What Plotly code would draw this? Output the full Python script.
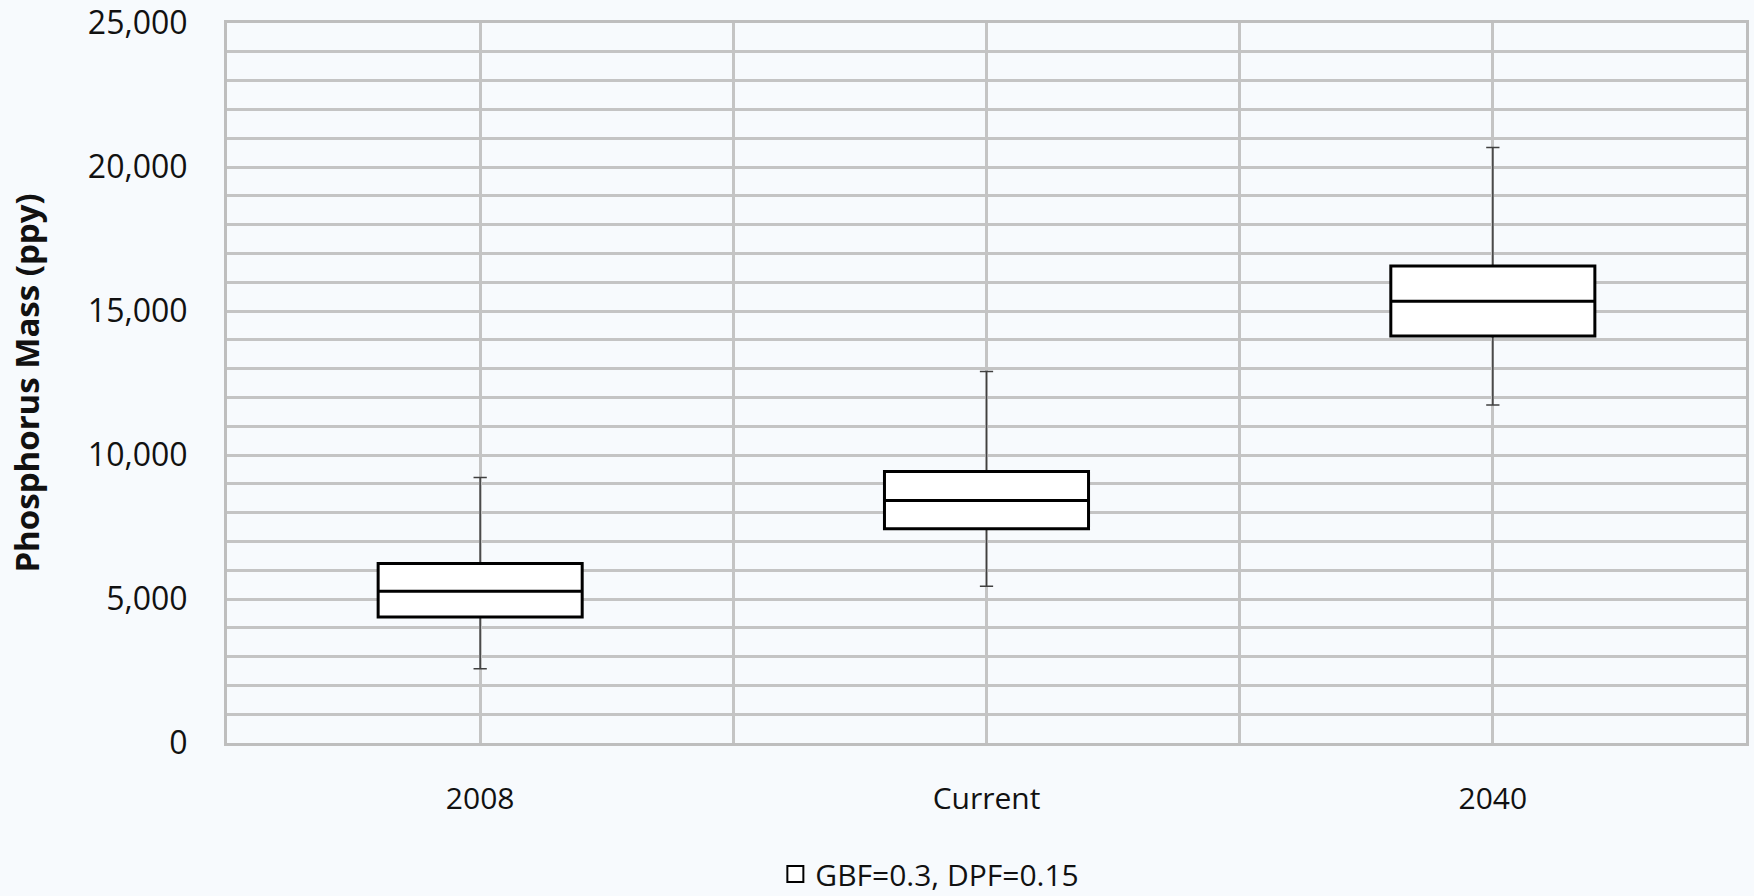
import plotly.graph_objects as go

categories = ["2008", "Current", "2040"]
lower_whisker = [2580, 5440, 11740]
q1 = [4375, 7440, 14130]
median = [5270, 8420, 15340]
q3 = [6230, 9430, 16560]
upper_whisker = [9215, 12900, 20680]
series_name = "GBF=0.3, DPF=0.15"
y_tick_vals = [0, 5000, 10000, 15000, 20000, 25000]
y_tick_text = ["0", "5,000", "10,000", "15,000", "20,000", "25,000"]

positions = list(range(len(categories)))
BG = "#F7FAFD"
GRID = "#C4C4C4"
FONT = "Open Sans"

fig = go.Figure()
# whiskers (thin dark gray)
fig.add_trace(go.Box(
    x=positions, q1=q1, median=median, q3=q3,
    lowerfence=lower_whisker, upperfence=upper_whisker,
    width=0.403, whiskerwidth=0.065,
    line=dict(color="#404040", width=1.5), fillcolor="white",
    boxpoints=False, showlegend=False, hoverinfo="skip", name=series_name,
))
# boxes (thick black)
fig.add_trace(go.Box(
    x=positions, q1=q1, median=median, q3=q3,
    lowerfence=q1, upperfence=q3,
    width=0.403, whiskerwidth=0,
    line=dict(color="black", width=3), fillcolor="white",
    boxpoints=False, showlegend=False, hoverinfo="skip", name=series_name,
))
# legend entry (square key as in the reference)
fig.add_trace(go.Scatter(
    x=[None], y=[None], mode="markers", name=series_name,
    marker=dict(symbol="square", size=21, color="white", line=dict(color="black", width=2)),
    showlegend=True, hoverinfo="skip",
))

fig.update_layout(
    width=1754, height=896,
    margin=dict(l=227, r=8, t=23, b=153, autoexpand=False),
    paper_bgcolor=BG, plot_bgcolor=BG,
    boxmode="overlay",
    font=dict(family=FONT, size=30, color="#111111"),
    legend=dict(orientation="h", x=0.361, xanchor="left", y=-0.182, yanchor="middle",
                bgcolor="rgba(0,0,0,0)", font=dict(size=30, family=FONT),
                itemwidth=30, tracegroupgap=0),
    xaxis=dict(
        range=[-0.5, 2.5], tickvals=positions, ticktext=categories,
        showgrid=True, gridcolor=GRID, gridwidth=2.5,
        minor=dict(dtick=0.5, tick0=-0.5, showgrid=True, gridcolor=GRID, gridwidth=2.5),
        showline=True, linecolor="#BEBEBE", linewidth=3, mirror=True,
        zeroline=False, ticks="", ticklabelstandoff=27,
        tickfont=dict(size=30, family=FONT),
    ),
    yaxis=dict(
        range=[0, 25000], tickvals=y_tick_vals, ticktext=y_tick_text,
        showgrid=True, gridcolor=GRID, gridwidth=2.5,
        minor=dict(dtick=1000, showgrid=True, gridcolor=GRID, gridwidth=2.5),
        showline=True, linecolor="#BEBEBE", linewidth=3, mirror=True,
        zeroline=False, ticks="", ticklabelstandoff=30,
        tickfont=dict(size=32, family=FONT),
        title=dict(text="<b>Phosphorus Mass (ppy)</b>", font=dict(size=33, family=FONT), standoff=39),
    ),
)

fig.write_html(
    "out.html",
    config={"displayModeBar": False},
    post_script="document.body.style.margin='0';document.body.style.background='%s';" % BG,
)
